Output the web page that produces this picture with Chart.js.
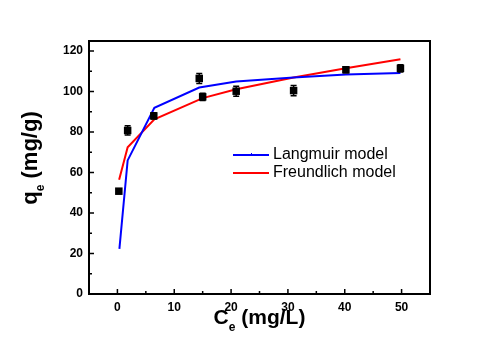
<!DOCTYPE html>
<html>
<head>
<meta charset="utf-8">
<script src="https://cdn.jsdelivr.net/npm/chart.js@4"></script>
<style>
  html, body { margin: 0; padding: 0; background: #fff; }
  #wrap { width: 500px; height: 353px; }
</style>
</head>
<body>
<div id="wrap"><canvas id="chart" width="500" height="353"></canvas></div>
<script>
// experimental points
const ce = [0.25, 1.8, 6.4, 14.4, 15.0, 20.9, 31.0, 40.2, 49.8];
const qe = [50.8, 80.8, 88.0, 106.5, 97.4, 100.2, 100.5, 110.8, 111.5];
const qeErr = [1.2, 2.3, 1.5, 2.5, 1.8, 2.5, 2.5, 1.5, 1.8];

// fitted models
const langX = [0.35, 1.8, 6.5, 14.4, 20.9, 31.0, 40.2, 49.8];
const langY = [22.3, 66.0, 92.0, 102.0, 105.0, 107.0, 108.5, 109.2];
const freuX = [0.3, 1.8, 6.5, 15.0, 20.9, 31.0, 40.2, 49.8];
const freuY = [56.4, 72.5, 86.3, 96.8, 101.2, 107.0, 111.5, 116.0];

const xTicks = [0, 10, 20, 30, 40, 50];
const yTicks = [0, 20, 40, 60, 80, 100, 120];
const legendLabels = ['Langmuir model', 'Freundlich model'];

const FONT = '"Liberation Sans", Arial, sans-serif';

const toPts = (xs, ys) => xs.map((x, i) => ({ x: x, y: ys[i] }));

// frame, inward ticks, error bars, legend and axis titles
const decor = {
    id: 'decor',
    afterDatasetsDraw(chart) {
        const { ctx, chartArea: a, scales: { x, y } } = chart;
        ctx.save();

        // error bars
        ctx.strokeStyle = '#000';
        ctx.lineWidth = 1.5;
        ce.forEach((c, i) => {
            const px = x.getPixelForValue(c);
            const top = y.getPixelForValue(qe[i] + qeErr[i]);
            const bot = y.getPixelForValue(qe[i] - qeErr[i]);
            ctx.beginPath();
            ctx.moveTo(px, top); ctx.lineTo(px, bot);
            ctx.moveTo(px - 3, top); ctx.lineTo(px + 3, top);
            ctx.moveTo(px - 3, bot); ctx.lineTo(px + 3, bot);
            ctx.stroke();
        });

        // frame
        ctx.lineWidth = 2;
        ctx.strokeRect(a.left, a.top, a.right - a.left, a.bottom - a.top);

        // ticks (inward)
        ctx.lineWidth = 1.5;
        ctx.beginPath();
        for (let v = -5; v <= 55; v += 5) {
            const px = x.getPixelForValue(v);
            if (px <= a.left + 1 || px >= a.right - 1) continue;
            const len = v % 10 === 0 ? 5 : 3;
            ctx.moveTo(px, a.bottom); ctx.lineTo(px, a.bottom - len);
        }
        for (let v = 0; v <= 125; v += 10) {
            const py = y.getPixelForValue(v);
            if (py >= a.bottom - 1 || py <= a.top + 1) continue;
            const len = v % 20 === 0 ? 5 : 3;
            ctx.moveTo(a.left, py); ctx.lineTo(a.left + len, py);
        }
        ctx.stroke();

        // legend
        const colors = ['#0000ff', '#ff0000'];
        const ly = [155, 173];
        ctx.font = '16px ' + FONT;
        ctx.textBaseline = 'middle';
        ctx.fillStyle = '#000';
        legendLabels.forEach((t, i) => {
            ctx.strokeStyle = colors[i];
            ctx.lineWidth = 2;
            ctx.beginPath();
            ctx.moveTo(233, ly[i]); ctx.lineTo(269, ly[i]);
            ctx.stroke();
            ctx.fillText(t, 273, ly[i]);
        });
        ctx.strokeStyle = colors[0];
        ctx.lineWidth = 1;
        ctx.beginPath();
        ctx.moveTo(251.5, ly[0] - 2); ctx.lineTo(251.5, ly[0]);
        ctx.stroke();

        // x title: C_e (mg/L)
        ctx.fillStyle = '#000';
        ctx.textBaseline = 'alphabetic';
        const small = 'bold 12px ' + FONT;
        let big = 'bold 21px ' + FONT;
        ctx.font = big;
        const wC = ctx.measureText('C').width;
        const wR = ctx.measureText(' (mg/L)').width;
        ctx.font = small;
        const wE = ctx.measureText('e').width;
        let sx = (a.left + a.right) / 2 - (wC + wE + wR) / 2;
        const by = 324;
        ctx.font = big; ctx.fillText('C', sx, by);
        ctx.font = small; ctx.fillText('e', sx + wC, by + 7);
        ctx.font = big; ctx.fillText(' (mg/L)', sx + wC + wE, by);

        // y title: q_e (mg/g)
        big = 'bold 22px ' + FONT;
        ctx.save();
        ctx.translate(37, 158);
        ctx.rotate(-Math.PI / 2);
        ctx.font = big;
        const wq = ctx.measureText('q').width;
        const wg = ctx.measureText(' (mg/g)').width;
        ctx.font = small;
        const we = ctx.measureText('e').width;
        const s0 = -(wq + we + wg) / 2;
        ctx.font = big; ctx.fillText('q', s0, 0);
        ctx.font = small; ctx.fillText('e', s0 + wq, 7);
        ctx.font = big; ctx.fillText(' (mg/g)', s0 + wq + we, 0);
        ctx.restore();

        ctx.restore();
    }
};

new Chart(document.getElementById('chart'), {
    type: 'scatter',
    data: {
        datasets: [
            {
                label: 'Data',
                data: toPts(ce, qe),
                pointStyle: 'rect',
                pointRadius: 5.3,
                pointHoverRadius: 5.3,
                backgroundColor: '#000',
                borderColor: '#000',
                borderWidth: 0,
                showLine: false
            },
            {
                label: legendLabels[0],
                data: toPts(langX, langY),
                showLine: true,
                borderColor: '#0000ff',
                borderWidth: 2,
                pointRadius: 0,
                tension: 0
            },
            {
                label: legendLabels[1],
                data: toPts(freuX, freuY),
                showLine: true,
                borderColor: '#ff0000',
                borderWidth: 2,
                pointRadius: 0,
                tension: 0
            }
        ]
    },
    options: {
        responsive: false,
        animation: false,
        events: [],
        layout: { padding: { left: 0, top: 41, right: 70, bottom: 0 } },
        plugins: {
            legend: { display: false },
            tooltip: { enabled: false }
        },
        scales: {
            x: {
                type: 'linear',
                min: -5,
                max: 55,
                afterBuildTicks: s => { s.ticks = xTicks.map(v => ({ value: v })); },
                afterFit: s => { s.height = 59; },
                grid: { display: false, drawTicks: false },
                border: { display: false },
                ticks: {
                    padding: 6,
                    color: '#000',
                    font: { family: FONT, size: 12, weight: 'bold' }
                }
            },
            y: {
                type: 'linear',
                min: 0,
                max: 125,
                afterBuildTicks: s => { s.ticks = yTicks.map(v => ({ value: v })); },
                afterFit: s => { s.width = 89; },
                grid: { display: false, drawTicks: false },
                border: { display: false },
                ticks: {
                    padding: 6,
                    color: '#000',
                    font: { family: FONT, size: 12, weight: 'bold' }
                }
            }
        }
    },
    plugins: [decor]
});
</script>
</body>
</html>
